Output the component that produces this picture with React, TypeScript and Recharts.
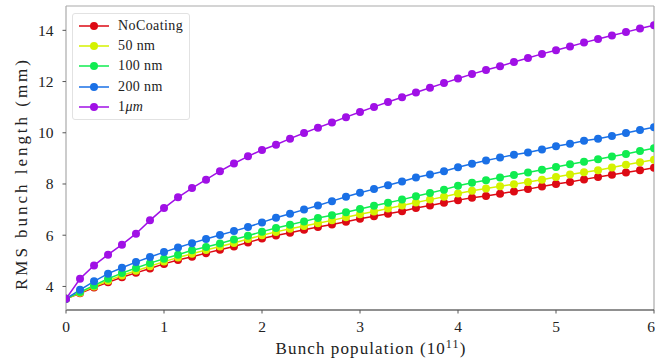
import { Label, Line, LineChart, ReferenceLine, XAxis, YAxis } from "recharts";

// bunch population in units of 1e11
const population = [
  0, 0.143, 0.286, 0.429, 0.571, 0.714, 0.857,
  1, 1.143, 1.286, 1.429, 1.571, 1.714, 1.857,
  2, 2.143, 2.286, 2.429, 2.571, 2.714, 2.857,
  3, 3.143, 3.286, 3.429, 3.571, 3.714, 3.857,
  4, 4.143, 4.286, 4.429, 4.571, 4.714, 4.857,
  5, 5.143, 5.286, 5.429, 5.571, 5.714, 5.857,
  6,
];

// RMS bunch length (mm) per coating case
const noCoating = [
  3.52, 3.73, 3.96, 4.16, 4.36, 4.53, 4.7,
  4.88, 5.03, 5.16, 5.3, 5.43, 5.56, 5.72,
  5.87, 5.99, 6.1, 6.21, 6.32, 6.42, 6.53,
  6.64, 6.74, 6.84, 6.94, 7.06, 7.16, 7.27,
  7.37, 7.46, 7.53, 7.62, 7.71, 7.8, 7.9,
  8.0, 8.08, 8.18, 8.27, 8.36, 8.45, 8.54,
  8.63,
];
const coat50nm = [
  3.52, 3.75, 4.0, 4.22, 4.43, 4.61, 4.79,
  4.97, 5.13, 5.28, 5.42, 5.56, 5.7, 5.85,
  6.0, 6.13, 6.25, 6.36, 6.47, 6.58, 6.7,
  6.82, 6.93, 7.04, 7.16, 7.28, 7.39, 7.5,
  7.63, 7.74, 7.82, 7.91, 7.99, 8.08, 8.17,
  8.27, 8.37, 8.46, 8.54, 8.64, 8.75, 8.85,
  8.95,
];
const coat100nm = [
  3.52, 3.78, 4.04, 4.3, 4.52, 4.72, 4.91,
  5.08, 5.24, 5.41, 5.54, 5.68, 5.83, 5.98,
  6.14, 6.28, 6.41, 6.54, 6.67, 6.78, 6.9,
  7.02, 7.15, 7.27, 7.39, 7.52, 7.65, 7.78,
  7.93, 8.05, 8.15, 8.25, 8.35, 8.45, 8.56,
  8.66, 8.77, 8.87, 8.97, 9.07, 9.17, 9.29,
  9.4,
];
const coat200nm = [
  3.52, 3.87, 4.2, 4.5, 4.73, 4.95, 5.15,
  5.34, 5.52, 5.69, 5.85, 6.01, 6.16, 6.32,
  6.5, 6.68, 6.84, 7.0, 7.16, 7.33, 7.5,
  7.66, 7.8, 7.95, 8.1, 8.25, 8.37, 8.5,
  8.65, 8.79, 8.92, 9.03, 9.14, 9.23, 9.35,
  9.47, 9.57, 9.69, 9.77, 9.87, 9.99, 10.11,
  10.22,
];
const coat1um = [
  3.52, 4.3, 4.82, 5.24, 5.63, 6.06, 6.58,
  7.06, 7.48, 7.84, 8.17, 8.5, 8.8, 9.08,
  9.33, 9.53, 9.77, 9.99, 10.2, 10.4, 10.61,
  10.81, 11.01, 11.2, 11.39, 11.57, 11.76, 11.94,
  12.12, 12.29, 12.45, 12.6, 12.76, 12.92, 13.08,
  13.22, 13.37, 13.52, 13.66, 13.8, 13.93, 14.07,
  14.2,
];

const xTicks = [0, 1, 2, 3, 4, 5, 6];
const yTicks = [4, 6, 8, 10, 12, 14];

const series = [
  { key: "noCoating", name: "NoCoating", color: "#dd0a14", values: noCoating },
  { key: "coat50nm", name: "50 nm", color: "#d4f200", values: coat50nm },
  { key: "coat100nm", name: "100 nm", color: "#10ec50", values: coat100nm },
  { key: "coat200nm", name: "200 nm", color: "#1a70e6", values: coat200nm },
  { key: "coat1um", name: "1μm", color: "#a010e6", values: coat1um },
];

const rows = population.map((x, i) => {
  const row: Record<string, number> = { x };
  series.forEach((s) => (row[s.key] = s.values[i]));
  return row;
});

const FONT = "Liberation Serif";
const TEXT = "#222";
const FRAME = "#aaa";

function SerifTick({ x, y, payload, anchor, dy }: any) {
  return (
    <text
      x={x}
      y={y}
      dy={dy}
      textAnchor={anchor}
      fontFamily={FONT}
      fontSize={15.5}
      fill={TEXT}
    >
      {payload.value}
    </text>
  );
}

function LegendName({ name }: { name: string }) {
  if (name === "1μm") {
    return (
      <span>
        1<i>μm</i>
      </span>
    );
  }
  return <span>{name}</span>;
}

function LegendBox() {
  return (
    <div
      style={{
        position: "absolute",
        left: 72,
        top: 13,
        width: 118,
        height: 107,
        border: "1px solid #e2e2e2",
        borderRadius: 3,
        background: "rgba(255,255,255,0.85)",
        boxSizing: "border-box",
      }}
    >
      {series.map((s, i) => (
        <div
          key={s.key}
          style={{
            position: "absolute",
            left: 0,
            top: 1.7 + i * 20.3,
            height: 20,
            display: "flex",
            alignItems: "center",
          }}
        >
          <svg width={44} height={20}>
            <line x1={6} x2={36} y1={10} y2={10} stroke={s.color} strokeWidth={1.5} />
            <circle cx={21} cy={10} r={4} fill={s.color} />
          </svg>
          <span
            style={{
              fontFamily: FONT,
              fontSize: 14,
              letterSpacing: 0.4,
              color: TEXT,
              marginLeft: 1,
            }}
          >
            <LegendName name={s.name} />
          </span>
        </div>
      ))}
    </div>
  );
}

export default function App() {
  return (
    <div
      style={{
        position: "absolute",
        left: 0,
        top: 0,
        width: 655,
        height: 364,
        background: "#fff",
        overflow: "hidden",
      }}
    >
      <LineChart
        width={655}
        height={364}
        data={rows}
        margin={{ top: 6, right: 1, bottom: 0, left: 0 }}
      >
        <XAxis
          dataKey="x"
          type="number"
          domain={[0, 6]}
          ticks={xTicks}
          allowDataOverflow
          height={54}
          axisLine={{ stroke: "#222", strokeWidth: 1.2 }}
          tickLine={{ stroke: "#555" }}
          tickSize={3.5}
          tickMargin={7}
          tick={(p: any) => <SerifTick {...p} anchor="middle" dy={11} />}
        >
          <Label
            content={({ viewBox }: any) => (
              <text
                x={viewBox.x + viewBox.width / 2 + 11}
                y={viewBox.y + 44}
                textAnchor="middle"
                fontFamily={FONT}
                fontSize={17}
                fill={TEXT}
                letterSpacing={1.1}
              >
                Bunch population (10
                <tspan dy={-6} fontSize={12}>
                  11
                </tspan>
                <tspan dy={6}>)</tspan>
              </text>
            )}
          />
        </XAxis>
        <YAxis
          type="number"
          domain={[3.08, 14.95]}
          ticks={yTicks}
          allowDataOverflow
          width={66}
          axisLine={{ stroke: FRAME, strokeWidth: 1.2 }}
          tickLine={{ stroke: "#555" }}
          tickSize={3.5}
          tickMargin={9}
          tick={(p: any) => <SerifTick {...p} anchor="end" dy={5.5} />}
        >
          <Label
            content={() => (
              <text
                x={0}
                y={0}
                transform="translate(27,175) rotate(-90)"
                textAnchor="middle"
                fontFamily={FONT}
                fontSize={17}
                fill={TEXT}
                textLength={230}
                lengthAdjust="spacing"
              >
                RMS bunch length (mm)
              </text>
            )}
          />
        </YAxis>
        <ReferenceLine y={14.95} stroke={FRAME} strokeWidth={1.2} />
        <ReferenceLine x={6} stroke={FRAME} strokeWidth={1.2} />
        {series.map((s) => (
          <Line
            key={s.key}
            dataKey={s.key}
            name={s.name}
            stroke={s.color}
            strokeWidth={1.5}
            dot={{ r: 4, fill: s.color, stroke: s.color, strokeWidth: 0 }}
            activeDot={false}
            isAnimationActive={false}
          />
        ))}
      </LineChart>
      <LegendBox />
    </div>
  );
}
